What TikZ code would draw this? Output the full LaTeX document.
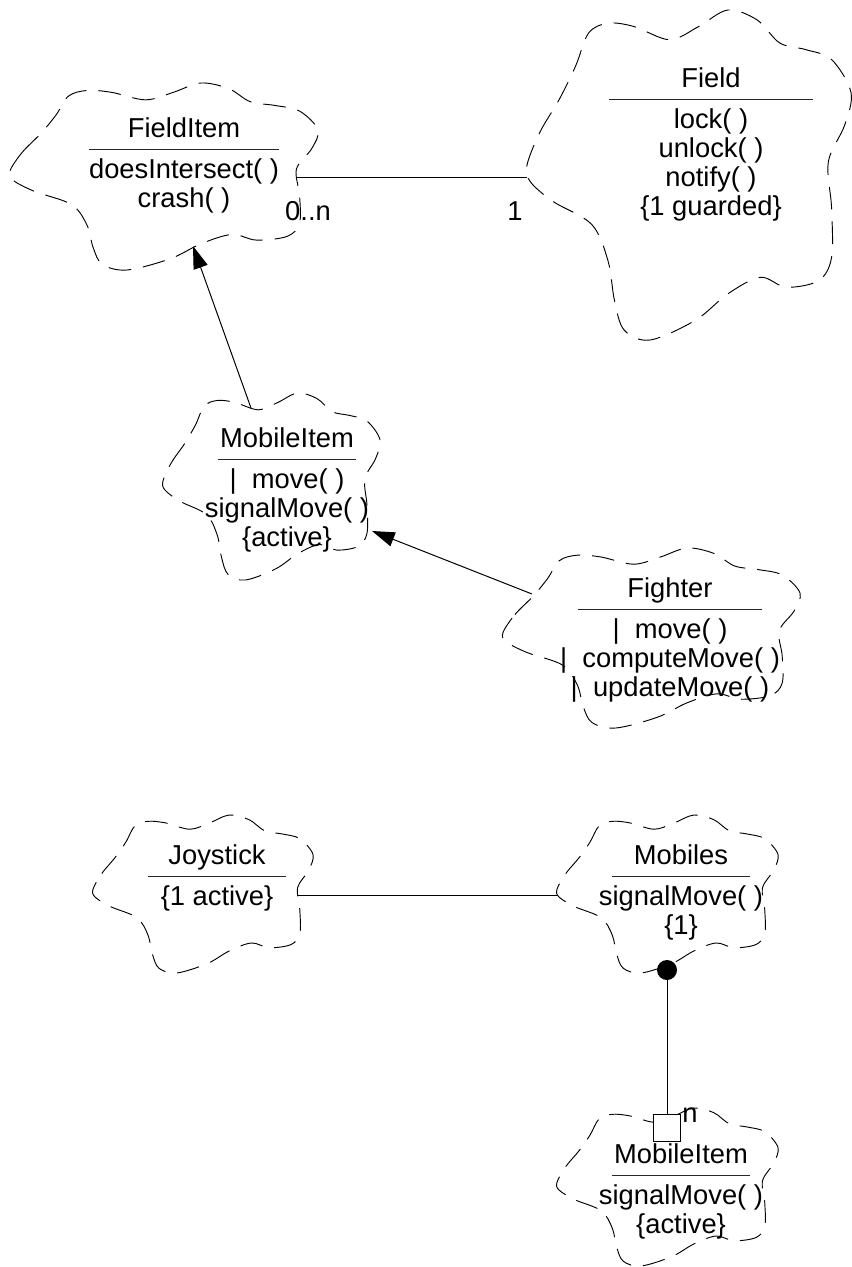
\documentclass[tikz,border=0pt]{standalone}
\usepackage{fontspec}
\setmainfont{Liberation Sans}
\usetikzlibrary{arrows.meta,calc}
\tikzset{
  cloudline/.style={line width=0.7pt, dash pattern=on 17pt off 9pt},
  ctext/.style={anchor=base, inner sep=0pt, font=\fontsize{20.5}{24}\selectfont},
  sepline/.style={line width=0.75pt, draw=black!85},
  conn/.style={line width=0.75pt},
  inh/.style={conn, -{Triangle[length=17pt,width=11pt]}},
  lbl/.style={anchor=base, inner sep=0pt, font=\fontsize{20.5}{24}\selectfont},
  dotend/.style={circle, fill=black, inner sep=0pt, minimum size=15pt},
  sqend/.style={draw, fill=white, inner sep=0pt, minimum size=20pt, line width=0.75pt},
}
\newcommand{\boochcloud}[4]{%
  \begin{scope}[shift={(#1,#2)},xscale=#3,yscale=#4]
    \draw[cloudline] plot[smooth cycle, tension=0.55] coordinates {
      (0.00,0.47) (0.04,0.37) (0.10,0.27) (0.15,0.17) (0.19,0.07)
      (0.25,0.04) (0.33,0.05) (0.44,0.09) (0.53,0.05) (0.62,0.00)
      (0.71,0.03) (0.78,0.10) (0.86,0.12) (0.94,0.15) (1.00,0.25)
      (0.98,0.35) (0.93,0.46) (0.94,0.60) (0.94,0.75) (0.90,0.82)
      (0.80,0.84) (0.72,0.81) (0.62,0.86) (0.52,0.94) (0.38,1.00)
      (0.30,0.97) (0.27,0.88) (0.25,0.76) (0.20,0.65) (0.08,0.58)
      (0.01,0.52)};
  \end{scope}}
\newcommand{\umlclass}[6]{%
  \node[ctext] (#1) at (#2,#3) {#5};
  \draw[sepline] (#2-#4,#3+12) -- (#2+#4,#3+12);
  \foreach \t [count=\i] in {#6} {\node[ctext] (#1-b\i) at (#2,#3+12+29*\i) {\t};}
}
\begin{document}
\begin{tikzpicture}[x=0.75pt,y=-0.75pt]
\useasboundingbox (0,0) rectangle (851,1267);
% clouds
\boochcloud{10}{83}{308}{187}
\boochcloud{527}{10}{324}{330}
\boochcloud{163}{393}{217}{187}
\boochcloud{503}{548}{297}{180}
\boochcloud{93}{815}{220}{158}
\boochcloud{557}{815}{221}{158}
\boochcloud{557}{1108}{221}{158}
% class texts
\umlclass{fieldItem}{184}{137}{95}{FieldItem}{{doesIntersect( )},{crash( )}}
\umlclass{field}{711}{87}{102}{Field}{{lock( )},{unlock( )},{notify( )},{\{1 guarded\}}}
\umlclass{mobileItem}{287}{447}{69}{MobileItem}{{|\ \ move( )},{signalMove( )},{\{active\}}}
\umlclass{fighter}{670}{597}{92}{Fighter}{{|\ \ move( )},{|\ \ computeMove( )},{|\ \ updateMove( )}}
\umlclass{joystick}{217}{864}{69}{Joystick}{{\{1 active\}}}
\umlclass{mobiles}{681}{864}{69}{Mobiles}{{signalMove( )},{\{1\}}}
\umlclass{mobileItemB}{681}{1163}{69}{MobileItem}{{signalMove( )},{\{active\}}}
% connector end points
\coordinate (fiR) at (297,177);
\coordinate (fL) at (527,177);
\coordinate (fiB) at (193,246);
\coordinate (miT) at (251,408);
\coordinate (miR) at (372,531);
\coordinate (fgL) at (532,594);
\coordinate (jR) at (298,895);
\coordinate (mL) at (557,895);
\node[dotend] (dot) at (667,970) {};
\node[sqend] (sq) at (667,1128) {};
% connectors
\draw[conn] (fiR) -- (fL);
\draw[inh] (miT) -- (fiB);
\draw[inh] (fgL) -- (miR);
\draw[conn] (jR) -- (mL);
\draw[conn] (dot) -- (sq);
% labels
\node[lbl] (lab0n) at (308,220) {0..n};
\node[lbl] (lab1) at (515,220) {1};
\node[lbl] (labn) at (690,1122) {n};
\end{tikzpicture}
\end{document}
